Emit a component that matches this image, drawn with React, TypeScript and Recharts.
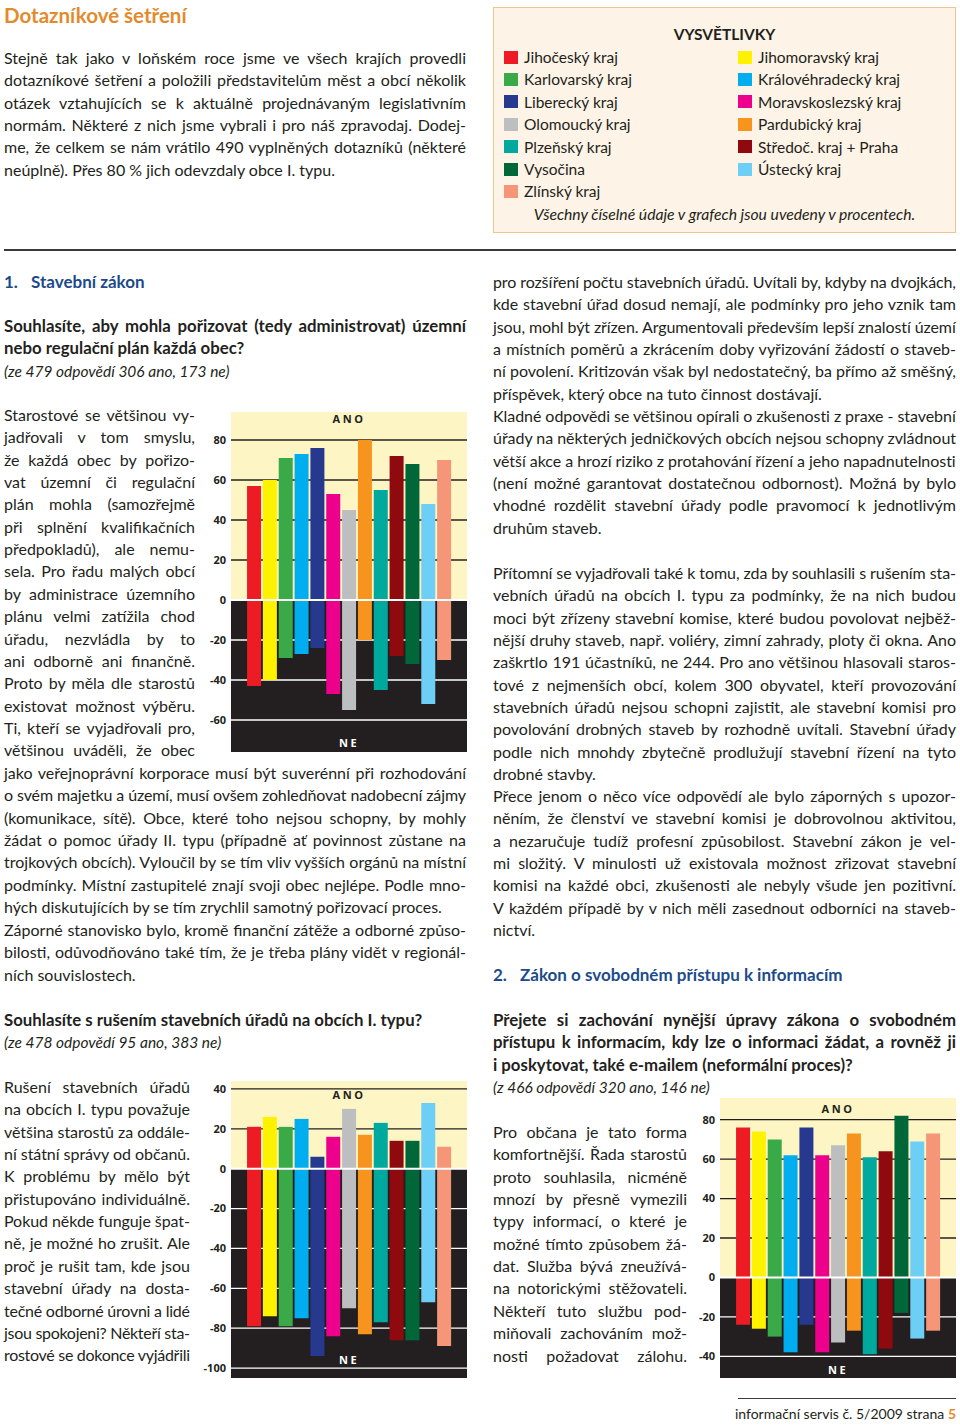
import React, { useLayoutEffect, useRef } from 'react';
import { BarChart, Bar, XAxis, YAxis, Cell, ReferenceArea, ReferenceLine } from 'recharts';

// regions in the order the bars are drawn (alphabetical)
const regions = [
  'Jihočeský kraj',
  'Jihomoravský kraj',
  'Karlovarský kraj',
  'Královéhradecký kraj',
  'Liberecký kraj',
  'Moravskoslezský kraj',
  'Olomoucký kraj',
  'Pardubický kraj',
  'Plzeňský kraj',
  'Středoč. kraj + Praha',
  'Vysočina',
  'Ústecký kraj',
  'Zlínský kraj',
];
const regionColors = [
  '#ed1c24', '#fff200', '#3aa948', '#00aeef', '#27398f', '#ec008c', '#bcbec0',
  '#f7941d', '#00a99d', '#8e0a0f', '#006838', '#6dcff6', '#f69679',
];

// 1. územní plán
const ano1 = [57, 60, 71, 73, 76, 53, 45, 80, 55, 72, 68, 48, 70];
const ne1 = [-43, -40, -29, -27, -24, -47, -55, -20, -45, -28, -32, -52, -30];
const ticks1 = [-60, -40, -20, 0, 20, 40, 60, 80];

// 1b. rušení stavebních úřadů
const ano2 = [21, 26, 21, 25, 6, 16, 30, 17, 23, 14, 14, 33, 11];
const ne2 = [-79, -74, -79, -75, -94, -84, -70, -83, -77, -86, -86, -67, -89];
const ticks2 = [-100, -80, -60, -40, -20, 0, 20, 40];

// 2. svobodný přístup k informacím
const ano3 = [76, 74, 70, 62, 76, 62, 67, 73, 61, 64, 82, 69, 73];
const ne3 = [-24, -26, -30, -38, -24, -38, -33, -27, -39, -36, -18, -31, -27];
const ticks3 = [-40, -20, 0, 20, 40, 60, 80];

const DARK = '#231f20';
const YELLOW = '#fdf5c4';
const ORANGE = '#e38b2c';
const BLUE = '#1c4b8c';
const FONT = 'Lato, "Open Sans", sans-serif';
const LH = 22.35;
const AXIS_W = 36;
const BODY = 16;

function TextLine({ x, y, w, text, justify = true, size = BODY, weight = 400, italic = false, color = DARK }) {
  const ref = useRef<HTMLSpanElement>(null);
  useLayoutEffect(() => {
    const el = ref.current;
    if (!el) return;
    el.style.wordSpacing = '0px';
    el.style.letterSpacing = '0px';
    const natural = el.getBoundingClientRect().width;
    const spaces = (text.match(/ /g) || []).length;
    if (natural > w) {
      el.style.letterSpacing = `${(w - natural) / Math.max(1, text.length - 1)}px`;
    } else if (justify && spaces > 0) {
      el.style.wordSpacing = `${(w - natural) / spaces}px`;
    }
  }, [text, w, justify]);
  return (
    <span
      ref={ref}
      style={{
        position: 'absolute',
        left: x,
        top: y - 11,
        lineHeight: '22px',
        whiteSpace: 'pre',
        fontFamily: FONT,
        fontSize: size,
        fontWeight: weight,
        fontStyle: italic ? 'italic' : 'normal',
        color,
      }}
    >
      {text}
    </span>
  );
}

function Para({ x, y, w, lines, justifyLast = false, weight = 400, size = BODY }) {
  return (
    <>
      {lines.map((t, i) => (
        <TextLine
          key={i}
          x={x}
          y={y + i * LH}
          w={w}
          text={t}
          size={size}
          weight={weight}
          justify={justifyLast || i < lines.length - 1}
        />
      ))}
    </>
  );
}

function SurveyChart({ left, top, height, ano, ne, domain, ticks, anoOffset, neOffset }) {
  const data = regions.map((name, i) => ({ name, idx: i, ano: ano[i], ne: ne[i] }));
  const cells = regions.map((name, i) => <Cell key={name} fill={regionColors[i]} />);
  return (
    <div style={{ position: 'absolute', left: left - AXIS_W, top }}>
      <BarChart
        width={AXIS_W + 236}
        height={height}
        data={data}
        margin={{ top: 0, right: 0, bottom: 0, left: 0 }}
        stackOffset="sign"
        barSize={14}
      >
        <XAxis dataKey="idx" type="number" domain={[-1.45, 13.45]} allowDataOverflow hide />
        <YAxis
          width={AXIS_W}
          domain={domain}
          ticks={ticks}
          allowDataOverflow
          interval={0}
          axisLine={false}
          tickLine={false}
          tickSize={0}
          tickMargin={5}
          tick={{ fontSize: 11, fontWeight: 700, fill: DARK, fontFamily: '"Open Sans", sans-serif' }}
        />
        <ReferenceArea
          y1={0}
          y2={domain[1]}
          fill={YELLOW}
          fillOpacity={1}
          stroke="none"
          zIndex={-300}
          label={{ value: 'ANO', position: 'insideTop', offset: anoOffset, fill: DARK, fontSize: 11, fontWeight: 700, letterSpacing: 2.5, fontFamily: '"Open Sans", sans-serif' }}
        />
        <ReferenceArea
          y1={domain[0]}
          y2={0}
          fill={DARK}
          fillOpacity={1}
          stroke="none"
          zIndex={-300}
          label={{ value: 'NE', position: 'insideBottom', offset: neOffset, fill: '#ffffff', fontSize: 11, fontWeight: 700, letterSpacing: 2.5, fontFamily: '"Open Sans", sans-serif' }}
        />
        {ticks
          .filter((t) => t !== 0)
          .map((t) => (
            <ReferenceLine key={t} y={t} stroke={t > 0 ? DARK : '#ffffff'} strokeWidth={1.3} zIndex={-200} />
          ))}
        <Bar dataKey="ano" stackId="s" isAnimationActive={false}>
          {cells}
        </Bar>
        <Bar dataKey="ne" stackId="s" isAnimationActive={false}>
          {cells}
        </Bar>
        <ReferenceLine y={0} stroke="#ffffff" strokeWidth={2} />
      </BarChart>
    </div>
  );
}

function Legend() {
  const leftCol = regions.filter((_, i) => i % 2 === 0);
  const rightCol = regions.filter((_, i) => i % 2 === 1);
  const row = (name: string, i: number, sx: number, tx: number) => {
    const idx = regions.indexOf(name);
    const y = 57 + i * 22.4;
    return (
      <React.Fragment key={name}>
        <div style={{ position: 'absolute', left: sx, top: y - 6.5, width: 14, height: 13, background: regionColors[idx] }} />
        <TextLine x={tx} y={y} w={300} text={name} justify={false} size={15.5} />
      </React.Fragment>
    );
  };
  return (
    <>
      <div
        style={{
          position: 'absolute',
          left: 493,
          top: 7,
          width: 461,
          height: 224,
          background: '#fdf3e6',
          border: '1.5px solid #f0c48e',
        }}
      />
      <div style={{ position: 'absolute', left: 493, top: 23, width: 463, textAlign: 'center', fontFamily: FONT, fontWeight: 700, fontSize: 15.5, color: DARK, lineHeight: '22px' }}>
        VYSVĚTLIVKY
      </div>
      {leftCol.map((n, i) => row(n, i, 504, 524))}
      {rightCol.map((n, i) => row(n, i, 738, 758))}
      <div style={{ position: 'absolute', left: 493, top: 203, width: 463, textAlign: 'center', fontFamily: FONT, fontStyle: 'italic', fontSize: 15.7, color: DARK, lineHeight: '22px' }}>
        Všechny číselné údaje v grafech jsou uvedeny v procentech.
      </div>
    </>
  );
}

export default function App() {
  return (
    <div style={{ position: 'absolute', left: 0, top: 0, width: 960, height: 1427, background: '#ffffff', overflow: 'hidden' }}>
      <TextLine x={4} y={15} w={400} text="Dotazníkové šetření" justify={false} size={20.5} weight={700} color={ORANGE} />
      <Para
        x={4}
        y={58}
        w={462}
        lines={[
          'Stejně tak jako v loňském roce jsme ve všech krajích provedli',
          'dotazníkové šetření a položili představitelům měst a obcí několik',
          'otázek vztahujících se k aktuálně projednávaným legislativním',
          'normám. Některé z nich jsme vybrali i pro náš zpravodaj. Dodej-',
          'me, že celkem se nám vrátilo 490 vyplněných dotazníků (některé',
          'neúplně). Přes 80 % jich odevzdaly obce I. typu.',
        ]}
      />
      <Legend />
      <div style={{ position: 'absolute', left: 4, top: 249, width: 952, height: 1.5, background: '#3a3a3a' }} />

      {/* levý sloupec */}
      <TextLine x={4} y={282} w={40} text="1." justify={false} size={17} weight={700} color={BLUE} />
      <TextLine x={31} y={282} w={300} text="Stavební zákon" justify={false} size={17} weight={700} color={BLUE} />
      <Para
        x={4}
        y={326}
        w={462}
        weight={700}
        size={16.8}
        lines={['Souhlasíte, aby mohla pořizovat (tedy administrovat) územní', 'nebo regulační plán každá obec?']}
      />
      <TextLine x={4} y={371} w={300} text="(ze 479 odpovědí 306 ano, 173 ne)" justify={false} italic size={15.5} />
      <Para
        x={4}
        y={415}
        w={191}
        justifyLast
        lines={[
          'Starostové se většinou vy-',
          'jadřovali v tom smyslu,',
          'že každá obec by pořizo-',
          'vat územní či regulační',
          'plán mohla (samozřejmě',
          'při splnění kvalifikačních',
          'předpokladů), ale nemu-',
          'sela. Pro řadu malých obcí',
          'by administrace územního',
          'plánu velmi zatížila chod',
          'úřadu, nezvládla by to',
          'ani odborně ani finančně.',
          'Proto by měla dle starostů',
          'existovat možnost výběru.',
          'Ti, kteří se vyjadřovali pro,',
          'většinou uváděli, že obec',
        ]}
      />
      <Para
        x={4}
        y={773}
        w={462}
        lines={[
          'jako veřejnoprávní korporace musí být suverénní při rozhodování',
          'o svém majetku a území, musí ovšem zohledňovat nadobecní zájmy',
          '(komunikace, sítě). Obce, které toho nejsou schopny, by mohly',
          'žádat o pomoc úřady II. typu (případně ať povinnost zůstane na',
          'trojkových obcích). Vyloučil by se tím vliv vyšších orgánů na místní',
          'podmínky. Místní zastupitelé znají svoji obec nejlépe. Podle mno-',
          'hých diskutujících by se tím zrychlil samotný pořizovací proces.',
        ]}
      />
      <Para
        x={4}
        y={930}
        w={462}
        lines={[
          'Záporné stanovisko bylo, kromě finanční zátěže a odborné způso-',
          'bilosti, odůvodňováno také tím, že je třeba plány vidět v regionál-',
          'ních souvislostech.',
        ]}
      />
      <TextLine x={4} y={1020} w={462} text="Souhlasíte s rušením stavebních úřadů na obcích I. typu?" justify={false} weight={700} size={16.8} />
      <TextLine x={4} y={1042} w={300} text="(ze 478 odpovědí 95 ano, 383 ne)" justify={false} italic size={15.5} />
      <Para
        x={4}
        y={1087}
        w={186}
        justifyLast
        lines={[
          'Rušení stavebních úřadů',
          'na obcích I. typu považuje',
          'většina starostů za oddále-',
          'ní státní správy od občanů.',
          'K problému by mělo být',
          'přistupováno individuálně.',
          'Pokud někde funguje špat-',
          'ně, je možné ho zrušit. Ale',
          'proč je rušit tam, kde jsou',
          'stavební úřady na dosta-',
          'tečné odborné úrovni a lidé',
          'jsou spokojeni? Někteří sta-',
          'rostové se dokonce vyjádřili',
        ]}
      />

      {/* pravý sloupec */}
      <Para
        x={493}
        y={282}
        w={463}
        lines={[
          'pro rozšíření počtu stavebních úřadů. Uvítali by, kdyby na dvojkách,',
          'kde stavební úřad dosud nemají, ale podmínky pro jeho vznik tam',
          'jsou, mohl být zřízen. Argumentovali především lepší znalostí území',
          'a místních poměrů a zkrácením doby vyřizování žádostí o staveb-',
          'ní povolení. Kritizován však byl nedostatečný, ba přímo až směšný,',
          'příspěvek, který obce na tuto činnost dostávají.',
        ]}
      />
      <Para
        x={493}
        y={416}
        w={463}
        lines={[
          'Kladné odpovědi se většinou opírali o zkušenosti z praxe - stavební',
          'úřady na některých jedničkových obcích nejsou schopny zvládnout',
          'větší akce a hrozí riziko z protahování řízení a jeho napadnutelnosti',
          '(není možné garantovat dostatečnou odbornost). Možná by bylo',
          'vhodné rozdělit stavební úřady podle pravomocí k jednotlivým',
          'druhům staveb.',
        ]}
      />
      <Para
        x={493}
        y={573}
        w={463}
        lines={[
          'Přítomní se vyjadřovali také k tomu, zda by souhlasili s rušením sta-',
          'vebních úřadů na obcích I. typu za podmínky, že na nich budou',
          'moci být zřízeny stavební komise, které budou povolovat nejběž-',
          'nější druhy staveb, např. voliéry, zimní zahrady, ploty či okna. Ano',
          'zaškrtlo 191 účastníků, ne 244. Pro ano většinou hlasovali staros-',
          'tové z nejmenších obcí, kolem 300 obyvatel, kteří provozování',
          'stavebních úřadů nejsou schopni zajistit, ale stavební komisi pro',
          'povolování drobných staveb by rozhodně uvítali. Stavební úřady',
          'podle nich mnohdy zbytečně prodlužují stavební řízení na tyto',
          'drobné stavby.',
        ]}
      />
      <Para
        x={493}
        y={796}
        w={463}
        lines={[
          'Přece jenom o něco více odpovědí ale bylo záporných s upozor-',
          'něním, že členství ve stavební komisi je dobrovolnou aktivitou,',
          'a nezaručuje tudíž profesní způsobilost. Stavební zákon je vel-',
          'mi složitý. V minulosti už existovala možnost zřizovat stavební',
          'komisi na každé obci, zkušenosti ale nebyly všude jen pozitivní.',
          'V každém případě by v nich měli zasednout odborníci na staveb-',
          'nictví.',
        ]}
      />
      <TextLine x={493} y={975} w={40} text="2." justify={false} size={17} weight={700} color={BLUE} />
      <TextLine x={520} y={975} w={400} text="Zákon o svobodném přístupu k informacím" justify={false} size={17} weight={700} color={BLUE} />
      <Para
        x={493}
        y={1020}
        w={463}
        weight={700}
        size={16.8}
        lines={[
          'Přejete si zachování nynější úpravy zákona o svobodném',
          'přístupu k informacím, kdy lze o informaci žádat, a rovněž ji',
          'i poskytovat, také e-mailem (neformální proces)?',
        ]}
      />
      <TextLine x={493} y={1087} w={300} text="(z 466 odpovědí 320 ano, 146 ne)" justify={false} italic size={15.5} />
      <Para
        x={493}
        y={1132}
        w={194}
        justifyLast
        lines={[
          'Pro občana je tato forma',
          'komfortnější. Řada starostů',
          'proto souhlasila, nicméně',
          'mnozí by přesně vymezili',
          'typy informací, o které je',
          'možné tímto způsobem žá-',
          'dat. Služba bývá zneužívá-',
          'na notorickými stěžovateli.',
          'Někteří tuto službu pod-',
          'miňovali zachováním mož-',
          'nosti požadovat zálohu.',
        ]}
      />

      <SurveyChart left={231} top={412} height={340} ano={ano1} ne={ne1} domain={[-76, 94]} ticks={ticks1} anoOffset={3} neOffset={5} />
      <SurveyChart left={231} top={1081} height={297} ano={ano2} ne={ne2} domain={[-105, 44]} ticks={ticks2} anoOffset={10} neOffset={14} />
      <SurveyChart left={720} top={1098} height={280} ano={ano3} ne={ne3} domain={[-51, 91]} ticks={ticks3} anoOffset={7} neOffset={4} />

      {/* zápatí */}
      <div style={{ position: 'absolute', left: 738, top: 1398, width: 218, height: 1.2, background: '#3a3a3a' }} />
      <div style={{ position: 'absolute', left: 700, top: 1403, width: 256, textAlign: 'right', fontFamily: FONT, fontSize: 14, color: DARK, lineHeight: '22px' }}>
        informační servis č. 5/2009 strana <span style={{ color: ORANGE, fontWeight: 700 }}>5</span>
      </div>
    </div>
  );
}
